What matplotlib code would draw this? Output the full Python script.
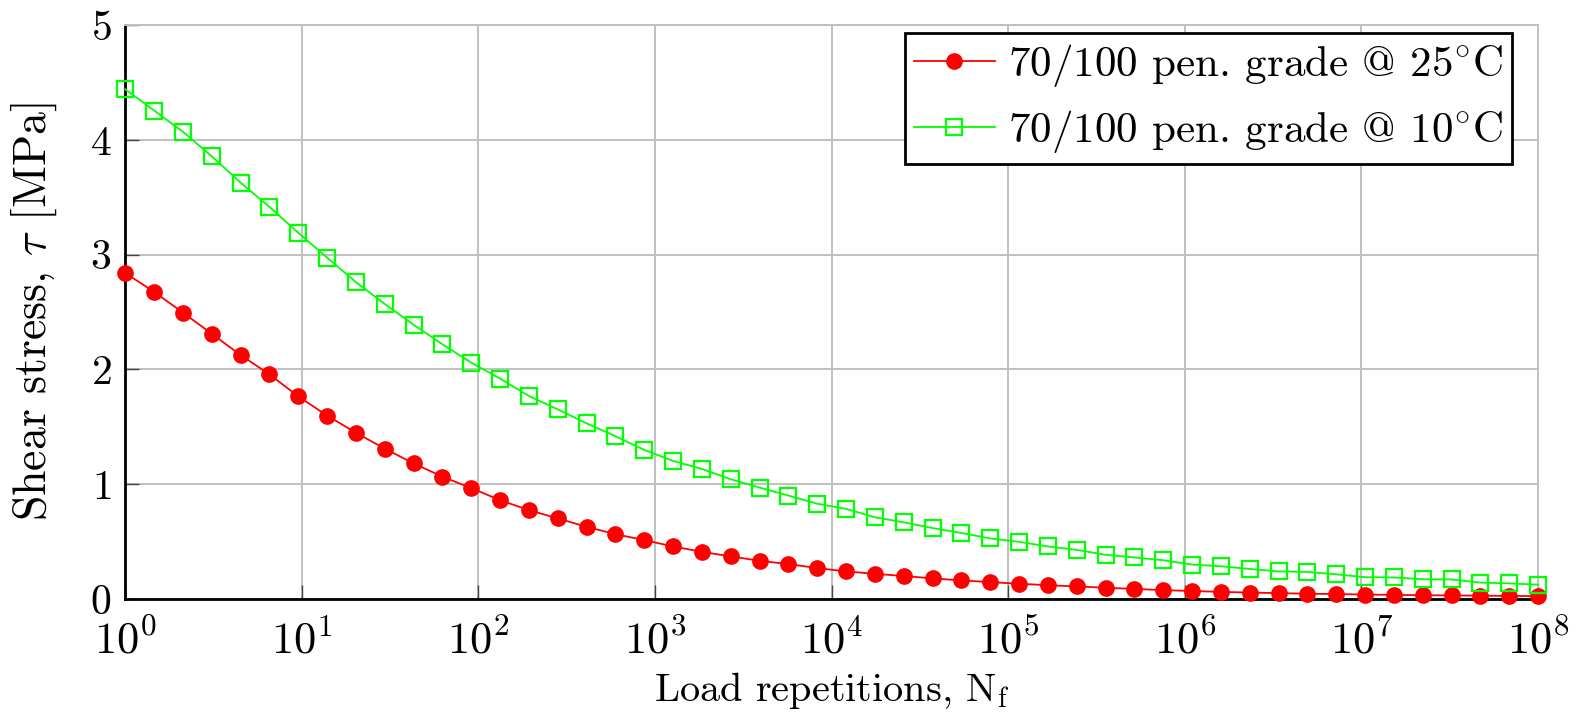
import numpy as np
import matplotlib
matplotlib.use('Agg')
import matplotlib.pyplot as plt
from matplotlib.ticker import NullLocator, FixedLocator

plt.rcParams['font.family'] = ['cmr10', 'DejaVu Serif']
plt.rcParams['mathtext.fontset'] = 'cm'
plt.rcParams['axes.formatter.use_mathtext'] = True
plt.rcParams['axes.unicode_minus'] = False

# 50 samples, evenly spaced in log10 between 1e0 and 1e8
load_reps = np.logspace(0, 8, 50)

tau_25C = [2.84, 2.675, 2.495, 2.31, 2.125, 1.957, 1.765, 1.598, 1.448, 1.31,
           1.181, 1.066, 0.966, 0.861, 0.774, 0.702, 0.629, 0.565, 0.513, 0.458,
           0.411, 0.371, 0.333, 0.304, 0.27, 0.24, 0.22, 0.2, 0.18, 0.162,
           0.147, 0.133, 0.12, 0.11, 0.098, 0.088, 0.077, 0.07, 0.062, 0.056,
           0.051, 0.046, 0.043, 0.039, 0.036, 0.033, 0.031, 0.029, 0.027, 0.025]

tau_10C = [4.44, 4.255, 4.07, 3.856, 3.627, 3.416, 3.19, 2.974, 2.76, 2.57,
           2.389, 2.219, 2.059, 1.92, 1.768, 1.652, 1.53, 1.418, 1.299, 1.203,
           1.133, 1.043, 0.971, 0.901, 0.83, 0.785, 0.712, 0.668, 0.618, 0.575,
           0.528, 0.498, 0.458, 0.428, 0.385, 0.362, 0.338, 0.3, 0.285, 0.262,
           0.24, 0.236, 0.215, 0.19, 0.188, 0.172, 0.17, 0.143, 0.136, 0.125]

labels = ['70/100 pen. grade @ 25$^{\\circ}$C', '70/100 pen. grade @ 10$^{\\circ}$C']
x_ticks = [10.0 ** k for k in range(9)]
y_ticks = [0, 1, 2, 3, 4, 5]

fig = plt.figure(figsize=(15.76, 7.21), dpi=100)
ax = fig.add_axes([0.0795, 0.1692, 0.8964, 0.7961])

ax.plot(load_reps, tau_25C, color='#ff0000', lw=1.3, marker='o', ms=11,
        mec='#ff0000', mfc='#ff0000', label=labels[0], clip_on=False, zorder=3)
ax.plot(load_reps, tau_10C, color='#00ff00', lw=1.3, marker='s', ms=11,
        mec='#00ff00', mfc='none', mew=1.6, label=labels[1], clip_on=False, zorder=3)

ax.set_xscale('log')
ax.set_xlim(1, 1e8)
ax.set_ylim(0, 5)
ax.xaxis.set_major_locator(FixedLocator(x_ticks))
ax.xaxis.set_minor_locator(NullLocator())
ax.set_yticks(y_ticks)

ax.grid(True, color='#c0c0c0', lw=1.4)
ax.set_axisbelow(True)
for s in ['top', 'right']:
    ax.spines[s].set_color('#c0c0c0')
    ax.spines[s].set_linewidth(1.4)
for s in ['left', 'bottom']:
    ax.spines[s].set_color('black')
    ax.spines[s].set_linewidth(2)

ax.tick_params(direction='in', length=10, width=1, color='#444444')
ax.tick_params(axis='x', pad=15, labelsize=32)
ax.tick_params(axis='y', pad=10, labelsize=30)

ax.set_xlabel('Load repetitions, N$_\\mathrm{f}$', fontsize=29, labelpad=5)
ax.set_ylabel('Shear stress, $\\tau$ [MPa]', fontsize=33, labelpad=22)

leg = ax.legend(loc='upper right', bbox_to_anchor=(0.9816, 0.986),
                fontsize=31, fancybox=False, framealpha=1,
                edgecolor='black', borderaxespad=0, handlelength=1.9,
                handletextpad=0.3, labelspacing=0.45, borderpad=0.2)
leg.get_frame().set_linewidth(2)

fig.savefig('out.png', dpi=100)
